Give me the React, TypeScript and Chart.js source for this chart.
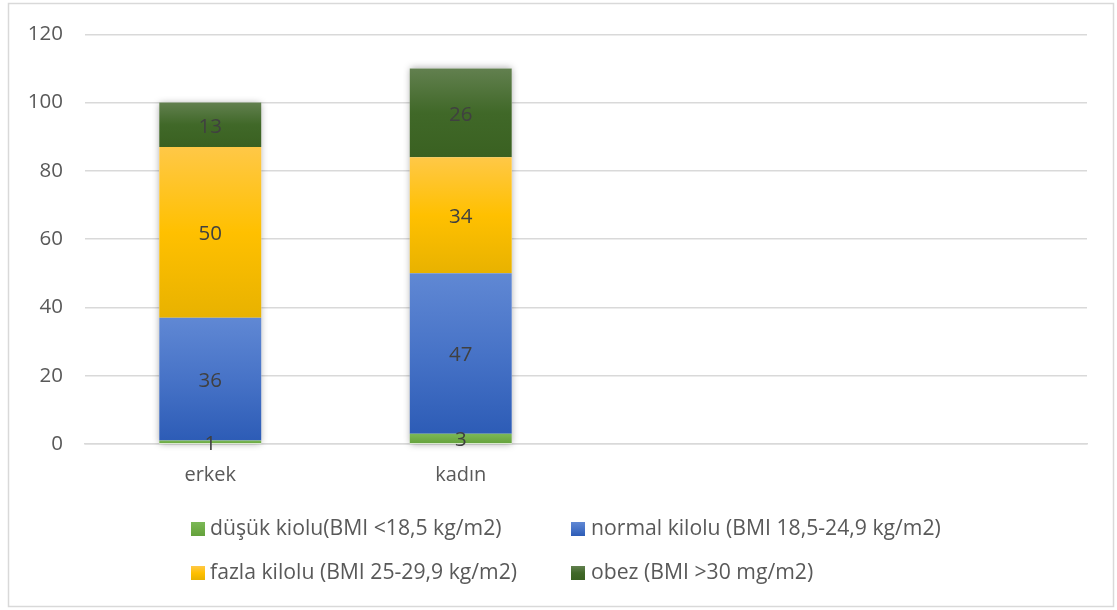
import React, { useEffect, useRef } from "react";
import { Chart, registerables } from "chart.js";

Chart.register(...registerables);

const categories = ["erkek", "kadın", "", ""];
const seriesNames = [
  "düşük kiolu(BMI <18,5 kg/m2)",
  "normal kilolu (BMI 18,5-24,9 kg/m2)",
  "fazla kilolu (BMI 25-29,9 kg/m2)",
  "obez (BMI >30 mg/m2)",
];
const dusuk = [1, 3, null, null];
const normal = [36, 47, null, null];
const fazla = [50, 34, null, null];
const obez = [13, 26, null, null];
const seriesValues = [dusuk, normal, fazla, obez];

const gradStops = [
  ["#7BB857", "#70AD47", "#64A13C"],
  ["#6088D4", "#4773C7", "#2D5CB6"],
  ["#FFC847", "#FFC000", "#E8B200"],
  ["#62804F", "#406828", "#3A6121"],
];

const FONT = "'Open Sans', 'DejaVu Sans', sans-serif";

function makeGradient(c: CanvasRenderingContext2D, y0: number, y1: number, idx: number) {
  const g = c.createLinearGradient(0, y0, 0, Math.max(y1, y0 + 1));
  g.addColorStop(0, gradStops[idx][0]);
  g.addColorStop(0.5, gradStops[idx][1]);
  g.addColorStop(1, gradStops[idx][2]);
  return g;
}

const bgFor = (idx: number) => (ctx: any) => {
  const chart = ctx.chart;
  if (!chart.chartArea || ctx.type !== "data" || !chart.scales.y) return gradStops[idx][1];
  const di = ctx.dataIndex;
  let base = 0;
  for (let i = 0; i < idx; i++) base += (seriesValues[i][di] as number) || 0;
  const v = (seriesValues[idx][di] as number) || 0;
  const y = chart.scales.y;
  const y0 = y.getPixelForValue(base + v);
  const y1 = y.getPixelForValue(base);
  return makeGradient(chart.ctx, y0, y1, idx);
};

const borderPlugin = {
  id: "outerBorder",
  beforeDraw(chart: any) {
    const c = chart.ctx;
    c.save();
    c.fillStyle = "#ffffff";
    c.fillRect(0, 0, chart.width, chart.height);
    c.strokeStyle = "#d9d9d9";
    c.lineWidth = 1.5;
    c.strokeRect(8.5, 3.5, 1105, 603);
    c.restore();
  },
};

const shadowPlugin = {
  id: "barShadow",
  beforeDatasetsDraw(chart: any) {
    const c = chart.ctx;
    const meta = chart.getDatasetMeta(0);
    const y = chart.scales.y;
    categories.forEach((_, i) => {
      let total = 0;
      seriesValues.forEach((s) => (total += (s[i] as number) || 0));
      if (!total) return;
      const el = meta.data[i];
      if (!el) return;
      const w = el.width;
      const top = y.getPixelForValue(total);
      const bottom = y.getPixelForValue(0);
      c.save();
      c.shadowColor = "rgba(0,0,0,0.35)";
      c.shadowBlur = 7;
      c.fillStyle = "#ffffff";
      c.fillRect(el.x - w / 2, top, w, bottom - top);
      c.restore();
    });
  },
};

const labelPlugin = {
  id: "dataLabels",
  afterDatasetsDraw(chart: any) {
    const c = chart.ctx;
    c.save();
    c.font = `20.5px ${FONT}`;
    c.fillStyle = "#404040";
    c.textAlign = "center";
    c.textBaseline = "middle";
    chart.data.datasets.forEach((ds: any, di: number) => {
      const meta = chart.getDatasetMeta(di);
      meta.data.forEach((el: any, i: number) => {
        const v = ds.data[i];
        if (v === null || v === undefined) return;
        c.fillText(String(v), el.x, (el.y + el.base) / 2 + 2);
      });
    });
    c.restore();
  },
};

const legendPlugin = {
  id: "customLegend",
  afterDraw(chart: any) {
    const c = chart.ctx;
    const pos = [
      { sx: 191, tx: 210, y: 529 },
      { sx: 571, tx: 591, y: 529 },
      { sx: 191, tx: 210, y: 573 },
      { sx: 571, tx: 591, y: 573 },
    ];
    c.save();
    c.font = `21.2px ${FONT}`;
    c.textBaseline = "middle";
    c.textAlign = "left";
    seriesNames.forEach((name, i) => {
      const p = pos[i];
      const size = 14;
      c.fillStyle = makeGradient(c, p.y - size / 2, p.y + size / 2, i);
      c.fillRect(p.sx, p.y - size / 2, size, size);
      c.fillStyle = "#595959";
      c.fillText(name, p.tx, p.y);
    });
    c.restore();
  },
};

export default function App() {
  const ref = useRef<HTMLCanvasElement | null>(null);
  useEffect(() => {
    if (!ref.current) return;
    const chart = new Chart(ref.current, {
      type: "bar",
      data: {
        labels: categories,
        datasets: seriesNames.map((name, i) => ({
          label: name,
          data: seriesValues[i],
          backgroundColor: bgFor(i),
          borderWidth: 0,
          barPercentage: 1,
          categoryPercentage: 0.407,
        })),
      },
      options: {
        animation: false,
        responsive: true,
        maintainAspectRatio: false,
        layout: { padding: { top: 32, right: 30, left: 0, bottom: 0 } },
        plugins: { legend: { display: false }, tooltip: { enabled: false } },
        scales: {
          x: {
            stacked: true,
            grid: { display: false, drawTicks: false },
            border: { display: true, color: "#d9d9d9", width: 1.5 },
            ticks: { color: "#595959", font: { family: FONT, size: 20 }, padding: 19 },
            afterFit: (s: any) => {
              s.height = 166;
            },
          },
          y: {
            stacked: true,
            min: 0,
            max: 120,
            ticks: { stepSize: 20, color: "#595959", font: { family: FONT, size: 20.5 }, padding: 22 },
            grid: { color: "#d9d9d9", lineWidth: 1.5, drawTicks: false },
            border: { display: false },
            afterFit: (s: any) => {
              s.width = 85;
            },
          },
        },
      },
      plugins: [borderPlugin, shadowPlugin, labelPlugin, legendPlugin],
    });
    return () => chart.destroy();
  }, []);
  return (
    <div style={{ position: "absolute", left: 0, top: 0, width: 1117, height: 610 }}>
      <canvas ref={ref} />
    </div>
  );
}
